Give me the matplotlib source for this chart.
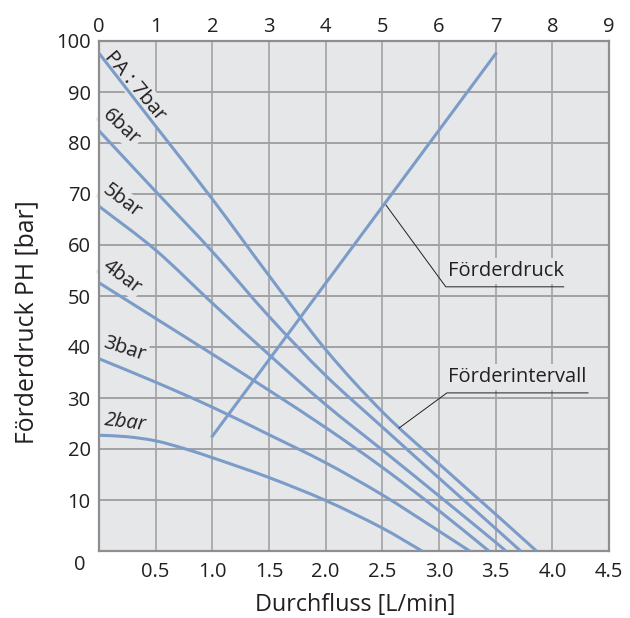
import matplotlib
matplotlib.use("Agg")
import matplotlib.pyplot as plt
from matplotlib.path import Path
from matplotlib.patches import PathPatch
import numpy as np

plt.rcParams['font.family'] = ['Open Sans', 'DejaVu Sans']

# ---- data ----
curve_labels = ["2bar", "3bar", "4bar", "5bar", "6bar", "PA : 7bar"]
curve_flow = [
    [0.0, 0.25, 0.5, 0.75, 1.0, 1.5, 2.0, 2.5, 2.85],
    [0.0, 0.5, 1.0, 1.5, 2.0, 2.5, 3.0, 3.27],
    [0.0, 0.5, 1.0, 1.5, 2.0, 2.5, 3.0, 3.44],
    [0.0, 0.5, 1.0, 1.5, 2.0, 2.5, 3.0, 3.5, 3.59],
    [0.0, 0.5, 1.0, 1.5, 2.0, 2.5, 3.0, 3.5, 3.72],
    [0.0, 0.5, 1.0, 1.5, 2.0, 2.5, 3.0, 3.5, 3.86],
]
curve_ph = [
    [22.7, 22.4, 21.6, 20.1, 18.3, 14.4, 9.9, 4.5, 0.0],
    [37.7, 33.1, 28.2, 22.8, 17.3, 11.0, 3.9, 0.0],
    [52.6, 45.6, 38.6, 31.5, 24.2, 16.4, 7.9, 0.0],
    [67.6, 59.0, 48.6, 38.5, 28.7, 19.8, 10.8, 1.7, 0.0],
    [82.4, 70.5, 58.7, 46.0, 34.4, 24.3, 14.3, 4.4, 0.0],
    [97.6, 83.3, 69.0, 54.0, 39.5, 27.3, 17.1, 7.2, 0.0],
]
# Förderdruck line (air pressure PA on top axis -> PH)
fd_pa = [2.0, 7.0]
fd_ph = [22.5, 97.5]

x_ticks = [0.5, 1.0, 1.5, 2.0, 2.5, 3.0, 3.5, 4.0, 4.5]
x_tick_labels = ["0.5", "1.0", "1.5", "2.0", "2.5", "3.0", "3.5", "4.0", "4.5"]
top_ticks = [0, 1, 2, 3, 4, 5, 6, 7, 8, 9]
y_ticks = [10, 20, 30, 40, 50, 60, 70, 80, 90, 100]

# ---- style ----
BG = "#e6e7e9"
GRID = "#a2a2a4"
LINE = "#7b9cc8"
TXT = "#231f20"
FS_TICK = 14.5
FS_LAB = 14.5


def smooth_path(xs, ys):
    """Smooth curve through the data points (Catmull-Rom as cubic Bezier)."""
    p = np.column_stack([xs, ys]).astype(float)
    n = len(p)
    verts = [p[0]]
    codes = [Path.MOVETO]
    for i in range(n - 1):
        p0 = p[i - 1] if i > 0 else p[i]
        p1, p2 = p[i], p[i + 1]
        p3 = p[i + 2] if i + 2 < n else p[i + 1]
        # scale tangents by local spacing to cope with uneven x steps
        h = p2[0] - p1[0]
        t1 = (p2 - p0) / (p2[0] - p0[0]) * h if p2[0] != p0[0] else (p2 - p1)
        t2 = (p3 - p1) / (p3[0] - p1[0]) * h if p3[0] != p1[0] else (p2 - p1)
        verts += [p1 + t1 / 3.0, p2 - t2 / 3.0, p2]
        codes += [Path.CURVE4] * 3
    return Path(verts, codes)


fig = plt.figure(figsize=(6.30, 6.18), dpi=100)
ax = fig.add_axes([99/630, 1-551/618, 510/630, 510/618])
ax.set_facecolor(BG)
ax.set_xlim(0, 4.5)
ax.set_ylim(0, 100)

for x in np.arange(0.5, 4.5, 0.5):
    ax.axvline(x, color=GRID, lw=1.2, zorder=0.5)
for y in range(10, 100, 10):
    ax.axhline(y, color=GRID, lw=1.4, zorder=0.5)

for s in ax.spines.values():
    s.set_color("#8e8e90")
    s.set_linewidth(1.6)

ax.set_xticks(x_ticks)
ax.set_xticklabels(x_tick_labels)
ax.set_yticks(y_ticks)
ax.tick_params(length=0, labelsize=FS_TICK, colors=TXT)
ax.tick_params(axis='x', pad=8)
ax.tick_params(axis='y', pad=6)
ax.annotate("0", xy=(0, 0), xycoords='data', xytext=(-14, -10),
            textcoords='offset points', ha='center', va='center',
            fontsize=FS_TICK, color=TXT)

ax.set_xlabel("Durchfluss [L/min]", fontsize=16.8, color=TXT)
ax.xaxis.set_label_coords(0.502, -0.106)
ax.xaxis.label.set_va('center')
ax.set_ylabel("Förderdruck PH [bar]", fontsize=17.8, color=TXT)
ax.yaxis.set_label_coords(-0.141, 0.449)
ax.yaxis.label.set_va('center')

for xs, ys in zip(curve_flow, curve_ph):
    ax.add_patch(PathPatch(smooth_path(xs, ys), facecolor='none',
                           edgecolor=LINE, lw=2.2, zorder=3, clip_on=True))

# curve labels
lab_pos = [(0.23, 25.2, -7, 'italic'), (0.22, 39.6, -18, 'normal'),
           (0.20, 53.8, -37, 'normal'), (0.20, 68.6, -37, 'normal'),
           (0.195, 83.2, -43, 'normal'), (0.32, 91.2, -50, 'normal')]
for name, (lx, ly, rot, sty) in zip(curve_labels, lab_pos):
    ax.text(lx, ly, name, rotation=rot, rotation_mode='anchor', ha='center',
            va='center', fontsize=FS_LAB, color=TXT, zorder=2, style=sty,
            bbox=dict(facecolor=BG, edgecolor='none', pad=1.5))

# top axis for air pressure
ax2 = ax.twiny()
ax2.set_xlim(0, 9)
ax2.set_xticks(top_ticks)
ax2.tick_params(length=0, labelsize=FS_TICK, colors=TXT, pad=3)
for s in ax2.spines.values():
    s.set_visible(False)
ax2.plot(fd_pa, fd_ph, color=LINE, lw=2.2, zorder=3)

# annotations
ax.text(3.075, 52.9, "Förderdruck", fontsize=14.5, color=TXT, ha='left',
        va='bottom', zorder=2, bbox=dict(facecolor=BG, edgecolor='none', pad=2))
ax.plot([2.52, 3.06, 4.10], [68.2, 51.8, 51.8], color=TXT, lw=0.7, zorder=4)
ax.text(3.08, 32.1, "Förderintervall", fontsize=14.5, color=TXT, ha='left',
        va='bottom', zorder=2, bbox=dict(facecolor=BG, edgecolor='none', pad=2))
ax.plot([2.647, 3.07, 4.315], [24.1, 31.0, 31.0], color=TXT, lw=0.7, zorder=4)

fig.savefig("out.png", dpi=100)
